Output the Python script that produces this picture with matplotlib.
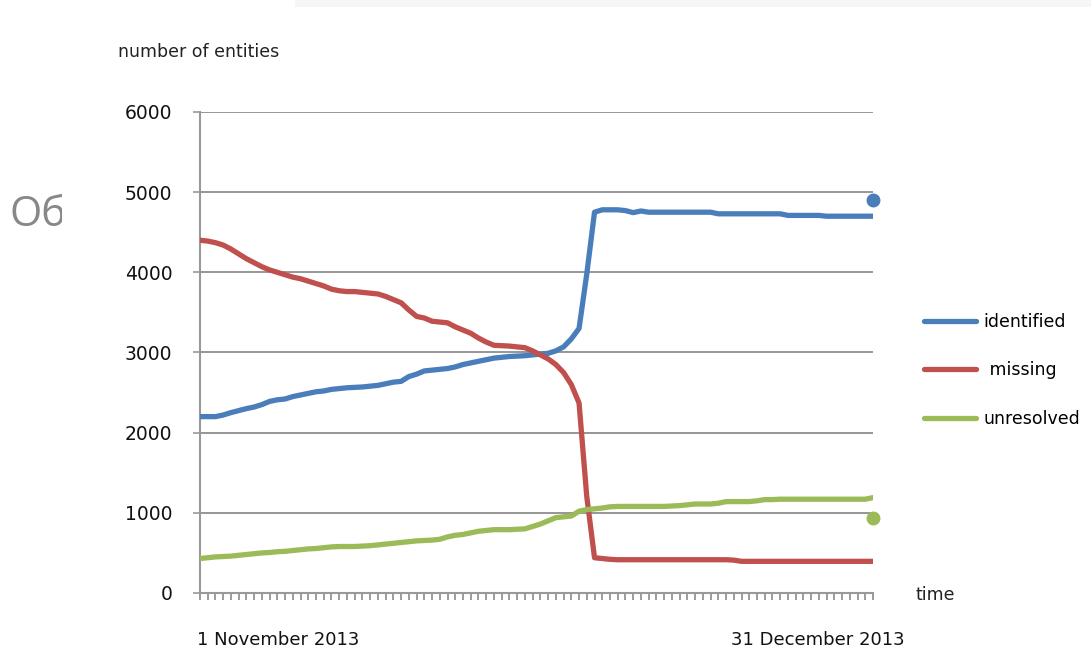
import numpy as np
import matplotlib.pyplot as plt
from matplotlib.patches import Rectangle

plt.rcParams['font.family'] = ['DejaVu Sans']

# daily snapshots, 1 Nov 2013 .. 31 Dec 2013
identified = [2200, 2200, 2200, 2220, 2250, 2275, 2300, 2320, 2350, 2390,
              2410, 2420, 2450, 2470, 2490, 2510, 2520, 2540, 2550, 2560,
              2565, 2570, 2580, 2590, 2610, 2630, 2640, 2700, 2730, 2770,
              2780, 2790, 2800, 2820, 2850, 2870, 2890, 2910, 2930, 2940,
              2950, 2955, 2960, 2970, 2980, 2990, 3020, 3070, 3170, 3300,
              3980, 4750, 4780, 4780, 4780, 4770, 4745, 4765, 4750, 4750,
              4750, 4750, 4750, 4750, 4750, 4750, 4750, 4730, 4730, 4730,
              4730, 4730, 4730, 4730, 4730, 4730, 4710, 4710, 4710, 4710,
              4710, 4700, 4700, 4700, 4700, 4700, 4700, 4700]
missing = [4400, 4390, 4370, 4340, 4290, 4230, 4170, 4120, 4070, 4030,
           4000, 3970, 3940, 3920, 3890, 3860, 3830, 3790, 3770, 3760,
           3760, 3750, 3740, 3730, 3700, 3660, 3620, 3530, 3450, 3430,
           3390, 3380, 3370, 3320, 3280, 3240, 3180, 3130, 3090, 3085,
           3080, 3070, 3060, 3020, 2970, 2920, 2850, 2750, 2600, 2370,
           1200, 440, 430, 420, 415, 415, 415, 415, 415, 415,
           415, 415, 415, 415, 415, 415, 415, 415, 415, 410,
           395, 395, 395, 395, 395, 395, 395, 395, 395, 395,
           395, 395, 395, 395, 395, 395, 395, 395]
unresolved = [430, 440, 450, 455, 460, 470, 480, 490, 500, 505,
              515, 520, 530, 540, 550, 555, 565, 575, 580, 580,
              580, 585, 590, 600, 610, 620, 630, 640, 650, 655,
              660, 670, 700, 720, 730, 750, 770, 780, 790, 790,
              790, 795, 800, 830, 860, 900, 940, 950, 960, 1020,
              1040, 1050, 1060, 1075, 1080, 1080, 1080, 1080, 1080, 1080,
              1080, 1085, 1090, 1100, 1110, 1110, 1110, 1120, 1140, 1140,
              1140, 1140, 1150, 1165, 1165, 1170, 1170, 1170, 1170, 1170,
              1170, 1170, 1170, 1170, 1170, 1170, 1170, 1190]
# separate end-of-period points
identified_end = 4900
unresolved_end = 930

y_ticks = [0, 1000, 2000, 3000, 4000, 5000, 6000]
date_labels = ['1 November 2013', '31 December 2013']

blue, red, green = '#4a7ebb', '#c0504d', '#9bbb59'
grid_c = '#8e8e8e'

fig = plt.figure(figsize=(10.91, 6.5), dpi=100)
fig.patch.set_facecolor('white')
# faint band along the top edge
fig.add_artist(Rectangle((0.27, 0.989), 0.73, 0.011, transform=fig.transFigure,
                         color='#f6f6f6', lw=0))

ax = fig.add_axes([0.1833, 0.0877, 0.6169, 0.74])
x = np.arange(len(identified))
ax.plot(x, identified, color=blue, lw=3.8, solid_capstyle='round',
        solid_joinstyle='round', label='identified', zorder=3)
ax.plot(x, missing, color=red, lw=3.8, solid_capstyle='round',
        solid_joinstyle='round', label=' missing', zorder=3)
ax.plot(x, unresolved, color=green, lw=3.8, solid_capstyle='round',
        solid_joinstyle='round', label='unresolved', zorder=3)
ax.plot([x[-1]], [identified_end], 'o', color=blue, ms=9, clip_on=False, zorder=4)
ax.plot([x[-1]], [unresolved_end], 'o', color=green, ms=9, clip_on=False, zorder=4)

ax.set_xlim(0, len(identified) - 1)
ax.set_ylim(0, 6000)
ax.set_yticks(y_ticks)
ax.set_yticklabels([str(v) for v in y_ticks], fontsize=13.5, color='#111111')
ax.set_xticks(x)
ax.set_xticklabels([])
ax.tick_params(axis='x', length=5, width=1.2, color='#8a8a8a', direction='out')
ax.tick_params(axis='y', length=5, width=1.2, color='#999999', pad=15)
ax.yaxis.grid(True, color=grid_c, lw=1.3)
ax.set_axisbelow(True)
for side in ['top', 'right']:
    ax.spines[side].set_visible(False)
for side in ['left', 'bottom']:
    ax.spines[side].set_color('#999999')
    ax.spines[side].set_linewidth(1.5)

fig.text(118 / 1091, 1 - 52 / 650, 'number of entities', fontsize=12.5,
         color='#222222', va='center', ha='left')
fig.text(915 / 1091, 1 - 595 / 650, 'time', fontsize=12.5,
         color='#222222', va='center', ha='left')
fig.text(197 / 1091, 1 - 640 / 650, date_labels[0], fontsize=13,
         color='#111111', va='center', ha='left')
fig.text(905 / 1091, 1 - 640 / 650, date_labels[1], fontsize=13,
         color='#111111', va='center', ha='right')

# cut-off slide title on the left
t = fig.text(10 / 1091, 1 - 215 / 650, 'Об', fontsize=30, family='Open Sans',
             color='#888888', va='center', ha='left')
t.set_clip_path(Rectangle((0, 0), 62 / 1091, 1, transform=fig.transFigure))

fig.legend(loc='upper left', bbox_to_anchor=(917 / 1091, 1 - 306 / 650),
           frameon=False, fontsize=12.5, handlelength=3.0, handletextpad=0.45,
           labelspacing=1.75, borderaxespad=0)

fig.savefig('out.png', dpi=100)
